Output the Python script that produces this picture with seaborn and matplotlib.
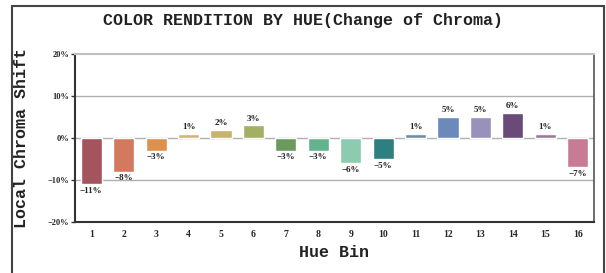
import pandas as pd
import matplotlib.pyplot as plt
import seaborn as sns
from matplotlib.patches import Rectangle
from matplotlib.ticker import FixedLocator, PercentFormatter

# Chart data
hue_bins = [str(i) for i in range(1, 17)]
chroma_shift = [-11, -8, -3, 1, 2, 3, -3, -3, -6, -5, 1, 5, 5, 6, 1, -7]
bar_colors = ['#a5535c', '#d3795f', '#de904c', '#d8b27c', '#c8b36c', '#a4af66',
              '#6b9a5f', '#63b38e', '#8ccbb0', '#2e8080', '#6b8ea6', '#6c89bb',
              '#9990bb', '#6a4b77', '#9a7997', '#c87b94']
y_ticks = [-20, -10, 0, 10, 20]

df = pd.DataFrame({'bin': hue_bins, 'shift': chroma_shift})

sns.set_style('white')
mono = 'Liberation Mono'
serif = 'Liberation Serif'

fig = plt.figure(figsize=(6.06, 2.73), dpi=100)
ax = fig.add_axes([75 / 606, 51 / 273, 519 / 606, 168 / 273])

sns.barplot(data=df, x='bin', y='shift', hue='bin', palette=bar_colors,
            legend=False, width=0.65, saturation=1, ax=ax)

ax.set_ylim(-20, 20)
ax.set_xlim(-0.5, 15.5)
ax.yaxis.set_major_locator(FixedLocator(y_ticks))
ax.yaxis.set_major_formatter(PercentFormatter(decimals=0))
for y in y_ticks[1:-1]:
    ax.axhline(y, color='#b0b0b0', lw=1, zorder=0)

# boundary tick marks between bins, labels at centres
ax.set_xticks([i + 0.5 for i in range(-1, 16)], minor=True)
ax.tick_params(axis='x', which='major', length=0, pad=6)
ax.tick_params(axis='x', which='minor', length=3, width=1.2, direction='in', color='#333333')
ax.tick_params(axis='y', length=3, width=1, direction='out', pad=1, color='#333333', left=True)

for lbl in ax.get_xticklabels() + ax.get_yticklabels():
    lbl.set_family(serif)
    lbl.set_fontweight('bold')
    lbl.set_fontsize(7)
for lbl in ax.get_yticklabels():
    lbl.set_fontsize(6)

for side in ['left', 'bottom']:
    ax.spines[side].set_color('#333333')
    ax.spines[side].set_linewidth(1.5)
ax.spines['right'].set_color('#555555')
ax.spines['right'].set_linewidth(1.2)
ax.spines['top'].set_color('#c0c0c0')
ax.spines['top'].set_linewidth(1.5)

for container in ax.containers:
    ax.bar_label(container, labels=[f'{v:.0f}%'.replace('-', '\u2212') for v in container.datavalues],
                 padding=2, fontsize=6.5, family=serif, fontweight='bold', color='#222222')

ax.set_xlabel('')
ax.set_ylabel('')
fig.text(0.5, 0.925, 'COLOR RENDITION BY HUE(Change of Chroma)', ha='center', va='center',
         family=mono, fontweight='bold', fontsize=12, color='#222222')
fig.text(334 / 606, 0.075, 'Hue Bin', ha='center', va='center',
         family=mono, fontweight='bold', fontsize=12, color='#222222')
fig.text(21 / 606, 1 - 138 / 273, 'Local Chroma Shift', ha='center', va='center',
         rotation=90, family=mono, fontweight='bold', fontsize=12, color='#222222')

# outer frame (runs off the bottom edge, as in the scan)
fig.patches.append(Rectangle((12 / 606, -0.05), 592 / 606, 1.05 - 6 / 273,
                             transform=fig.transFigure, fill=False,
                             edgecolor='#444444', lw=1.5))

fig.savefig('out.png', dpi=100)
